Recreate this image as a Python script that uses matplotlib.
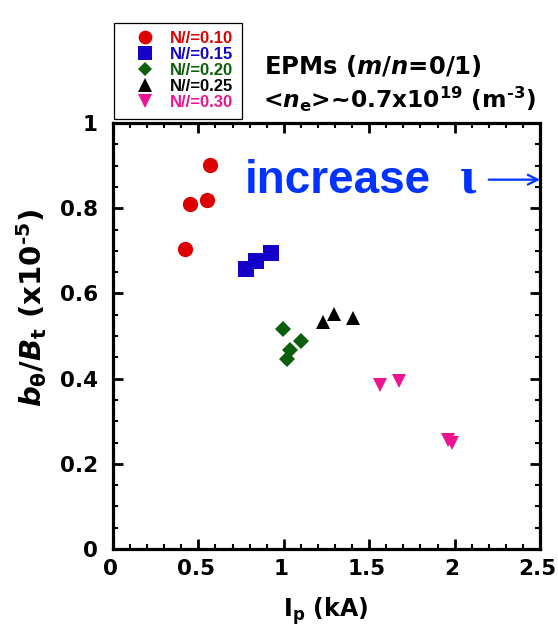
import matplotlib
matplotlib.use("Agg")
import matplotlib.pyplot as plt
from matplotlib.ticker import MultipleLocator, FuncFormatter
from matplotlib.transforms import ScaledTranslation

plt.rcParams["mathtext.fontset"] = "custom"
plt.rcParams["mathtext.rm"] = "DejaVu Sans:bold"
plt.rcParams["mathtext.it"] = "DejaVu Sans:bold:italic"
plt.rcParams["mathtext.bf"] = "DejaVu Sans:bold"

# Plasma current Ip (kA) and mode amplitude b_theta/B_t (x1e-5) for each N//
labels = ["N//=0.10", "N//=0.15", "N//=0.20", "N//=0.25", "N//=0.30"]
ip_010 = [0.42, 0.45, 0.55, 0.57]
bt_010 = [0.705, 0.810, 0.819, 0.901]
ip_015 = [0.78, 0.84, 0.925]
bt_015 = [0.657, 0.675, 0.695]
ip_020 = [0.994, 1.099, 1.036, 1.017]
bt_020 = [0.516, 0.488, 0.466, 0.447]
ip_025 = [1.231, 1.294, 1.403]
bt_025 = [0.534, 0.552, 0.542]
ip_030 = [1.563, 1.673, 1.963, 1.983]
bt_030 = [0.384, 0.394, 0.255, 0.249]

x_ticks = [0, 0.5, 1, 1.5, 2, 2.5]
y_ticks = [0, 0.2, 0.4, 0.6, 0.8, 1]

series = [
    (ip_010, bt_010, "o", "#dd0000", 11.0),
    (ip_015, bt_015, "s", "#1400c8", 11.0),
    (ip_020, bt_020, "D", "#0b5e0b", 7.8),
    (ip_025, bt_025, "^", "#000000", 10.5),
    (ip_030, bt_030, "v", "#ee1490", 10.5),
]

W, H = 558, 633
fig = plt.figure(figsize=(W / 100, H / 100), dpi=100)


def fpx(x, y):
    return (x / W, 1 - y / H)


ax = fig.add_axes([113 / W, 1 - 549 / H, (540 - 113) / W, (549 - 123) / H])

handles = []
for (xs, ys, mk, col, ms), lab in zip(series, labels):
    h, = ax.plot(xs, ys, ls="none", marker=mk, ms=ms, mfc=col, mec=col,
                 mew=0, label=lab)
    handles.append(h)

ax.set_xlim(0, 2.5)
ax.set_ylim(0, 1)
ax.set_xticks(x_ticks)
ax.set_yticks(y_ticks)
ax.xaxis.set_minor_locator(MultipleLocator(0.1))
ax.yaxis.set_minor_locator(MultipleLocator(0.05))
fmt = FuncFormatter(lambda v, p: f"{v:g}")
ax.xaxis.set_major_formatter(fmt)
ax.yaxis.set_major_formatter(fmt)

for s in ax.spines.values():
    s.set_linewidth(2.3)
ax.tick_params(which="both", direction="in", top=True, right=True)
ax.tick_params(which="major", length=7.5, width=2.0)
ax.tick_params(which="minor", length=3.8, width=1.5)
ax.tick_params(axis="x", which="major", pad=7)
ax.tick_params(axis="y", which="major", pad=11)
shift = ScaledTranslation(-2.5 / 100, 0, fig.dpi_scale_trans)
for lab in ax.get_xticklabels():
    lab.set_transform(lab.get_transform() + shift)
for lab in ax.get_xticklabels() + ax.get_yticklabels():
    lab.set_fontfamily("DejaVu Sans")
    lab.set_fontweight("bold")
    lab.set_fontsize(15.5)

# axis titles
fig.text(*fpx(326, 617), r"I$_\mathrm{p}$ (kA)", ha="center", va="baseline",
         fontsize=17, fontweight="bold", family="DejaVu Sans")
fig.text(*fpx(32, 308), r"$b_\mathrm{θ}/B_\mathrm{t}$ (x10$^\mathrm{‐5}$)",
         rotation=90, ha="center", va="center",
         fontsize=21, fontweight="bold", family="DejaVu Sans")

# header lines
fig.text(*fpx(264, 74), r"EPMs ($m$/$n$=0/1)", ha="left", va="baseline",
         fontsize=17.5, fontweight="bold", family="DejaVu Sans")
fig.text(*fpx(263, 108), r"<$n_\mathrm{e}$>~0.7x10$^\mathrm{19}$ (m$^\mathrm{‐3}$)",
         ha="left", va="baseline",
         fontsize=16.8, fontweight="bold", family="DejaVu Sans")

# rotational transform annotation
blue = "#0033ff"
ax.text(0.773, 0.836, "increase", ha="left", va="baseline", color=blue,
        fontsize=33, fontweight="bold", family="Liberation Sans")
ax.text(2.03, 0.836, "ι", ha="left", va="baseline", color=blue,
        fontsize=38, fontweight="bold", family="Liberation Serif")
ax.annotate("", xy=(2.5, 0.867), xytext=(2.2, 0.867),
            arrowprops=dict(arrowstyle="->,head_length=0.7,head_width=0.35",
                            lw=1.6, color=blue, shrinkA=0, shrinkB=0),
            annotation_clip=False)

leg = fig.legend(handles=handles, loc="upper left",
                 bbox_to_anchor=fpx(114, 23), borderaxespad=0,
                 prop={"family": "Liberation Sans", "weight": "bold", "size": 12},
                 frameon=True, fancybox=False, framealpha=1,
                 edgecolor="black", borderpad=0.5, handlelength=2.7,
                 handletextpad=0.16, labelspacing=0.06, numpoints=1,
                 markerscale=0.9)
leg.get_frame().set_linewidth(0.9)
for txt, (_, _, _, col, _) in zip(leg.get_texts(), series):
    txt.set_color(col)

fig.savefig("out.png", dpi=100)
